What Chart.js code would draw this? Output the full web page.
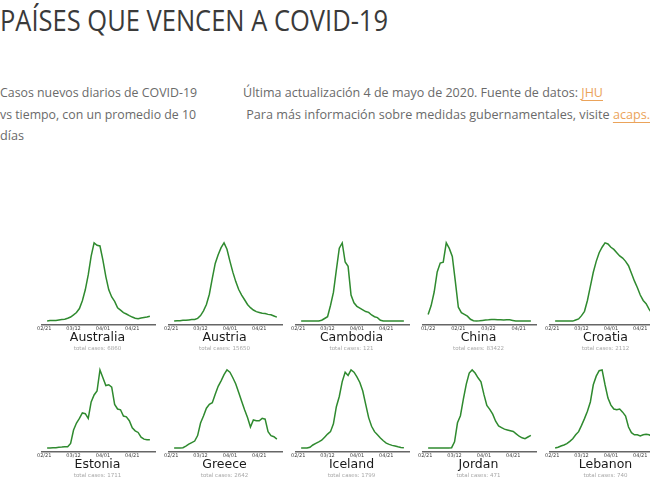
<!DOCTYPE html>
<html>
<head>
<meta charset="utf-8">
<script src="https://cdn.jsdelivr.net/npm/chart.js@4.4.0/dist/chart.umd.min.js"></script>
<style>
  html, body { margin: 0; padding: 0; background: #fff; }
  body { width: 650px; height: 487px; overflow: hidden; position: relative; font-family: "Open Sans", sans-serif; }
  .fit { position: absolute; white-space: pre; transform-origin: 0 50%; }
  #title { left: 0; top: 2px; font-size: 29px; line-height: 36px; color: #3a3a3a; }
  .txt { font-size: 12px; line-height: 16px; color: #6a6a6a; }
  a { color: #eba35a; text-decoration: underline; text-underline-offset: 3px; text-decoration-thickness: 1px; }
  .cell { position: absolute; width: 127px; height: 127px; }
  .cell canvas { position: absolute; left: 0; top: 0; }
  .name { position: absolute; left: 0; width: 127px; text-align: center; font-family: "DejaVu Sans", sans-serif; font-size: 12.5px; line-height: 14px; color: #1a1a1a; }
  .total { position: absolute; left: 0; width: 127px; text-align: center; font-family: "DejaVu Sans", sans-serif; font-size: 5.5px; line-height: 7px; color: #a8a8a8; }
</style>
</head>
<body>
<div id="title" class="fit" data-w="388">PAÍSES QUE VENCEN A COVID-19</div>
<div class="fit txt" style="left:0;top:85px" data-w="197">Casos nuevos diarios de COVID-19</div>
<div class="fit txt" style="left:0;top:107px" data-w="196">vs tiempo, con un promedio de 10</div>
<div class="fit txt" style="left:0;top:128px" data-w="24">días</div>
<div class="fit txt" style="left:243px;top:85px" data-w="360">Última actualización 4 de mayo de 2020. Fuente de datos: <a>JHU</a></div>
<div class="fit txt" style="left:243px;top:107px" data-w="407"> Para más información sobre medidas gubernamentales, visite <a>acaps.</a></div>
<div id="grid"></div>
<script>
// tick dates
const ticksFeb = ['2020-02-21', '2020-03-12', '2020-04-01', '2020-04-21'];
const ticksJan = ['2020-01-22', '2020-02-21', '2020-03-22', '2020-04-21'];

const countries = ['Australia', 'Austria', 'Cambodia', 'China', 'Croatia',
                   'Estonia', 'Greece', 'Iceland', 'Jordan', 'Lebanon'];
const totalCases = [6860, 15650, 121, 83422, 2112, 1711, 2642, 1799, 471, 740];

// first day and spacing (days) of each series
const startDates = ['2020-02-23', '2020-02-23', '2020-02-23', '2020-01-22', '2020-02-23',
                    '2020-02-23', '2020-02-23', '2020-02-23', '2020-02-23', '2020-02-23'];
const stepDays = [2, 2, 2, 3, 2, 2, 2, 2, 2, 2];

// daily new cases, 10 day average
const australia = [0, 2, 3, 3, 5, 7, 8, 12, 17, 26, 36, 53, 86, 132, 195, 274, 330, 320,
                   317, 257, 188, 132, 102, 83, 56, 46, 36, 30, 23, 17, 12, 10, 13, 15, 17, 20];
const austria = [0, 4, 4, 8, 8, 12, 16, 16, 28, 56, 104, 168, 272, 432, 584, 672, 744, 792,
                 728, 608, 496, 400, 320, 264, 216, 168, 136, 112, 96, 88, 80, 76, 68, 64, 52, 40];
const cambodia = [0, 0, 0, 0, 0, 0, 0, 0.1, 0.3, 0.5, 1.8, 3.3, 5.9, 8.4, 9, 6.8, 6.3, 3,
                  2.1, 1.7, 1.5, 1.3, 1.1, 1, 0.7, 0.5, 0.4, 0.1, 0, 0, 0, 0, 0, 0, 0, 0];
const china = [380, 800, 1440, 2390, 2810, 2850, 3760, 3500, 3120, 1940, 720, 460, 380, 300,
               150, 80, 65, 76, 95, 114, 125, 141, 141, 125, 125, 114, 125, 125, 95, 65, 65,
               65, 65, 65, 65];
const croatia = [0, 0, 0, 0, 0, 0, 0, 1, 2, 5, 9, 19, 32, 45, 55, 63, 68, 72,
                 71, 68, 66, 63, 60, 58, 55, 51, 44, 37, 31, 24, 19, 16, 11, 7, 5, 4];
const estonia = [0, 0, 0.3, 0.3, 0.7, 0.9, 1.2, 1.2, 4.1, 15.9, 22.1, 26.2, 31, 30.4, 26.2, 40.7, 46.9, 50.4,
                 69, 62.1, 55.2, 55.9, 53.8, 38.6, 34.5, 33.8, 28.3, 27.6, 24.2, 17.9, 15.2, 13.8, 9.7, 7.9, 7.4, 7.4];
const greece = [0, 0, 0, 0.4, 2.3, 4.5, 6.3, 8.1, 14.4, 28.8, 36.9, 45.9, 50.4, 52.2, 62.1, 71.1, 77.4, 84.6,
                90, 87.3, 81, 73.8, 63.9, 54, 44.1, 35.1, 24.3, 32.4, 31.5, 31.5, 34.2, 33.3, 18.9, 14.4, 13.1, 10.4];
const iceland = [0, 0, 0, 0.8, 3.1, 4.7, 6.2, 7.8, 10.9, 14, 16.4, 24.2, 41.3, 51.5, 66.3, 75.7, 72.5, 78,
                 75.7, 71, 65.5, 56.9, 43.7, 30.4, 21.8, 16.4, 13.3, 10.1, 7.3, 5, 3.7, 2.7, 2, 1.3, 0.7, 0.3];
const jordan = [0, 0, 0, 0, 0, 0, 0, 0, 0.1, 1.6, 6.4, 8.2, 12.4, 16.2, 19, 19.8, 19, 17.8,
                16.8, 13.6, 10.8, 9.8, 8.6, 6.8, 5.6, 5.2, 4.8, 4.6, 4.4, 4.2, 3.6, 3, 2.6, 2.4, 2.8, 3.2];
const lebanon = [0, 0.3, 0.8, 1.2, 1.7, 2.6, 3.6, 5.1, 6.3, 8.7, 11.3, 14.1, 17.7, 24.3, 27.6, 29.7, 30, 24.3,
                 19.2, 16.5, 15, 14.7, 15, 13.8, 12.3, 8.1, 5.9, 5.1, 5.1, 4.7, 5.1, 5.3, 5.1, 4.5, 4.2, 4.2];

const seriesList = [australia, austria, cambodia, china, croatia,
                    estonia, greece, iceland, jordan, lebanon];

// fit text lines to their widths in the reference
document.querySelectorAll('.fit').forEach(el => {
    const w = el.getBoundingClientRect().width;
    el.style.transform = 'scaleX(' + (el.dataset.w / w) + ')';
});

const DAY = 86400000;
const YEAR0 = Date.UTC(2020, 0, 1);
function dayNum(s) {
    const p = s.split('-');
    return (Date.UTC(+p[0], +p[1] - 1, +p[2]) - YEAR0) / DAY;
}
function fmt(v) {
    const d = new Date(YEAR0 + v * DAY);
    const mm = String(d.getUTCMonth() + 1).padStart(2, '0');
    const dd = String(d.getUTCDate()).padStart(2, '0');
    return mm + '/' + dd;
}

const grid = document.getElementById('grid');
const cellW = 127, cellH = 127, gridLeft = 34, gridTop = 235;

countries.forEach((name, i) => {
    const col = i % 5, row = Math.floor(i / 5);
    const cell = document.createElement('div');
    cell.className = 'cell';
    cell.style.left = (gridLeft + col * cellW) + 'px';
    cell.style.top = (gridTop + row * cellH) + 'px';
    const canvas = document.createElement('canvas');
    canvas.width = 127;
    canvas.height = 100;
    canvas.style.width = '127px';
    canvas.style.height = '100px';
    cell.appendChild(canvas);
    const nm = document.createElement('div');
    nm.className = 'name';
    nm.style.top = '95px';
    nm.textContent = name;
    cell.appendChild(nm);
    const tot = document.createElement('div');
    tot.className = 'total';
    tot.style.top = '110px';
    tot.textContent = 'total cases: ' + totalCases[i];
    cell.appendChild(tot);
    grid.appendChild(cell);

    const values = seriesList[i];
    const x0 = dayNum(startDates[i]);
    const pts = values.map((v, k) => ({ x: x0 + k * stepDays[i], y: v }));
    const xMin = x0, xMax = x0 + (values.length - 1) * stepDays[i];
    const xPad = (xMax - xMin) * 0.05;
    const yMin = Math.min(...values), yMax = Math.max(...values);
    const yPad = (yMax - yMin) * 0.05;
    const tickDays = (i === 3 ? ticksJan : ticksFeb).map(dayNum);

    new Chart(canvas, {
        type: 'line',
        data: {
            datasets: [
                {
                    data: pts,
                    borderColor: '#2f8a2f',
                    borderWidth: 1.5,
                    pointRadius: 0,
                    tension: 0,
                    fill: false
                }
            ]
        },
        options: {
            responsive: false,
            animation: false,
            layout: {
                padding: { left: 8, right: 6, top: 4, bottom: 0 }
            },
            scales: {
                x: {
                    type: 'linear',
                    min: xMin - xPad,
                    max: xMax + xPad,
                    afterBuildTicks: axis => {
                        axis.ticks = tickDays.map(v => ({ value: v }));
                    },
                    afterFit: axis => {
                        axis.height = 10;
                    },
                    grid: { display: false, drawTicks: false },
                    border: { display: true, color: '#666', width: 1.5 },
                    ticks: {
                        autoSkip: false,
                        maxRotation: 0,
                        padding: 1,
                        color: '#444',
                        font: { family: 'DejaVu Sans', size: 5 },
                        callback: v => fmt(v)
                    }
                },
                y: {
                    display: false,
                    min: yMin - yPad,
                    max: yMax + yPad
                }
            },
            plugins: {
                legend: { display: false },
                tooltip: { enabled: false }
            }
        }
    });
});
</script>
</body>
</html>
